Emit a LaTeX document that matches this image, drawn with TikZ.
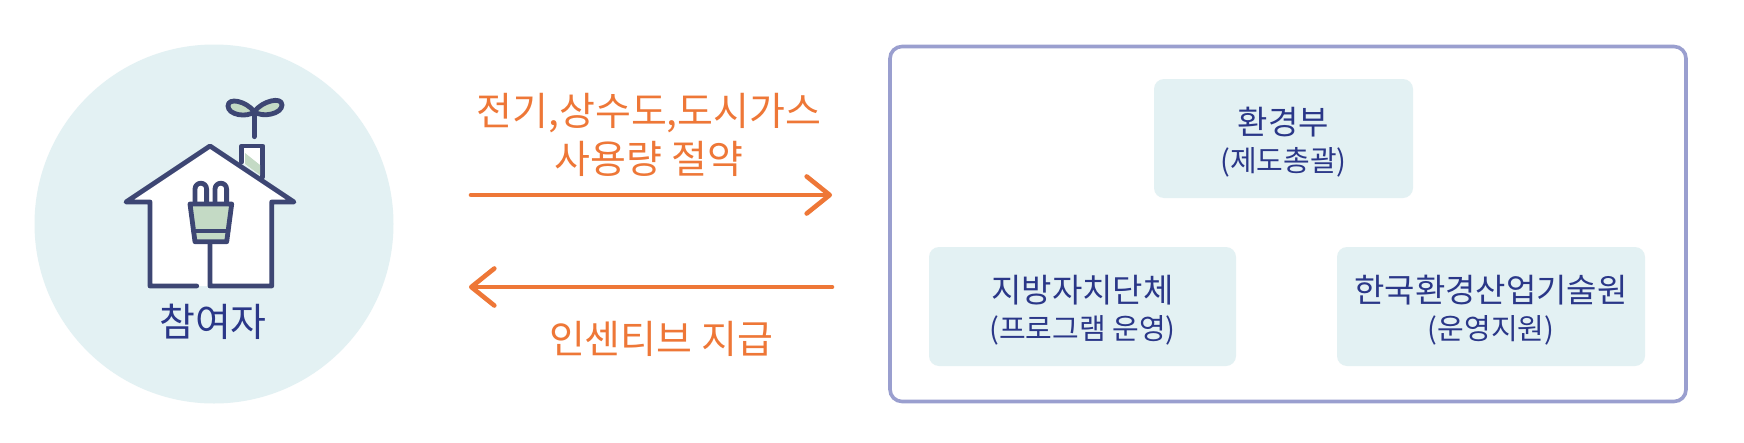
\documentclass[tikz,border=0pt]{standalone}
\usepackage{fontspec}
\setmainfont{Noto Sans CJK KR}
\usetikzlibrary{arrows.meta}
\definecolor{tint}{HTML}{E3F1F3}
\definecolor{frameblue}{HTML}{9A9FCF}
\definecolor{inkblue}{HTML}{2A3788}
\definecolor{flow}{HTML}{EE7737}
\definecolor{iconline}{HTML}{3D4673}
\definecolor{leaf}{HTML}{C4DAC5}
\tikzset{
  orgbox/.style={fill=tint,rounded corners=10pt,minimum width=#1,minimum height=119pt,inner sep=0pt,align=center,text=inkblue},
  flowlabel/.style={text=flow,align=center,inner sep=0pt,font=\fontsize{39}{48}\selectfont},
  flowarrow/.style={draw=flow,line width=4.6pt,line cap=round,-{Straight Barb[length=23pt,width=37pt,line width=4.6pt,round]}},
  icon/.style={draw=iconline,line width=4.8pt,line join=round,line cap=round},
}
\newcommand{\orgtext}[2]{{\fontsize{33}{41}\selectfont\rule{0pt}{35pt}#1}\\[10pt]{\fontsize{29}{35}\selectfont #2}}
\begin{document}
\begin{tikzpicture}[x=1pt,y=-1pt]
\useasboundingbox (0,0) rectangle (1744,442);
\fill[white] (0,0) rectangle (1744,442);
% participant
\node[circle,fill=tint,minimum size=359pt,inner sep=0pt] (part) at (214,224) {};
\fill[white] (126,202) -- (210,146) -- (294,202) -- (271.7,202) -- (271.7,286) -- (150,286) -- (150,202) -- cycle;
\filldraw[icon,fill=white] (241.7,162) -- (241.7,146) -- (262.7,146) -- (262.7,177);
\fill[leaf] (245,153) -- (260,165) -- (260,175) -- (245,164) -- cycle;
\draw[icon] (196.7,286) -- (150,286) -- (150,202) -- (126,202) -- (210,146) -- (294,202) -- (271.7,202) -- (271.7,286) -- (210,286) -- (210,241.7);
\draw[icon,fill=white] (195,204) -- (195,189) arc[start angle=180,end angle=360,radius=5.8] -- (206.6,204);
\draw[icon,fill=white] (215,204) -- (215,189) arc[start angle=180,end angle=360,radius=5.8] -- (226.6,204);
\filldraw[icon,fill=leaf] (190,204) -- (231.7,204) -- (226.7,241.7) -- (195,241.7) -- cycle;
\draw[icon] (193.5,231) -- (228,231);
\draw[icon] (254.3,136.7) -- (254.3,111.7);
\filldraw[icon,fill=leaf] (254.3,111.7) .. controls (246,101) and (228,97) .. (228,106) .. controls (228,115) and (247,118) .. (254.3,111.7);
\filldraw[icon,fill=leaf] (254.3,111.7) .. controls (262,101) and (282,96) .. (282,105) .. controls (282,114) and (262,118) .. (254.3,111.7);
\node[inner sep=0pt,text=inkblue,font=\fontsize{39}{46}\selectfont] (partlabel) at (213,322) {참여자};
% flows
\node[flowlabel] (savelabel) at (649,135) {전기,상수도,도시가스\\사용량 절약};
\node[flowlabel] (paylabel) at (661,339) {인센티브 지급};
\coordinate (saveStart) at (471,195);
\coordinate (saveEnd) at (832,195);
\coordinate (payStart) at (832,287);
\coordinate (payEnd) at (469,287);
\draw[flowarrow] (saveStart) -- (saveEnd);
\draw[flowarrow] (payStart) -- (payEnd);
% organisations
\node[draw=frameblue,line width=3.6pt,rounded corners=12pt,minimum width=796pt,minimum height=355pt,inner sep=0pt] (frame) at (1288,224) {};
\node[orgbox=259pt] (moe) at (1283.5,138.5) {\orgtext{환경부}{(제도총괄)}};
\node[orgbox=307pt] (local) at (1082.5,306.5) {\orgtext{지방자치단체}{(프로그램 운영)}};
\node[orgbox=308pt] (keiti) at (1491,306.5) {\orgtext{한국환경산업기술원}{(운영지원)}};
\end{tikzpicture}
\end{document}
